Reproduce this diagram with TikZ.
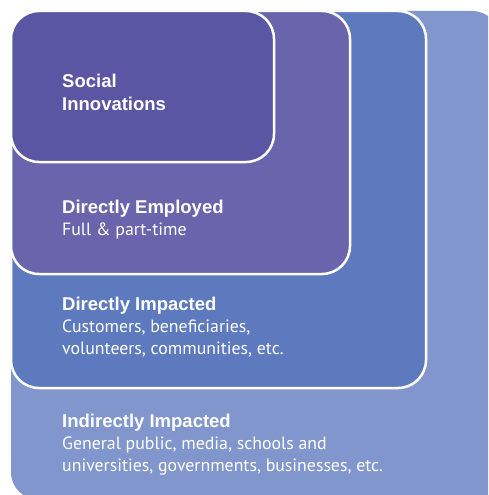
\documentclass[tikz,border=0pt]{standalone}
\usepackage{fontspec}
\setmainfont{Liberation Sans}
\newfontfamily\subfont{PT Sans}
\usetikzlibrary{positioning}
\definecolor{innovcol}{HTML}{5B56A4}
\definecolor{employcol}{HTML}{6A64AD}
\definecolor{directcol}{HTML}{5E7ABE}
\definecolor{indirectcol}{HTML}{8196CD}
\begin{document}
\begin{tikzpicture}[x=1pt, y=-1pt,
    layer/.style = {draw=white, line width=2.5pt, rounded corners=28pt},
    title/.style = {inner sep=0pt, text=white, align=left, font=\fontsize{18.5}{23}\selectfont\bfseries},
    desc/.style = {anchor=north west, inner sep=0pt, text=white, align=left, font=\subfont\fontsize{17.8}{22}\selectfont}]
    \useasboundingbox (0,0) rectangle (488,495);
    \clip (0,0) rectangle (488,495);

    \fill[rounded corners=28pt, indirectcol] (11,11) rectangle (500,500); % outer layer, cut by the page
    \draw[layer, fill=directcol] (11,11) rectangle (426,388);
    \draw[layer, fill=employcol] (11,11) rectangle (350,274);
    \draw[layer, fill=innovcol] (11,11) rectangle (274,162);

    \node[title, anchor=north west] (innov) at (62,73.5) {Social\\Innovations};
    \node[title, anchor=base west] (employ) at (62,213) {Directly Employed};
    \node[desc] (employtxt) at (62,222.2) {Full \& part-time};
    \node[title, anchor=base west] (direct) at (62,310) {Directly Impacted};
    \node[desc] (directtxt) at (62,319.2) {Customers, beneficiaries,\\volunteers, communities, etc.};
    \node[title, anchor=base west] (indirect) at (62,427) {Indirectly Impacted};
    \node[desc] (indirecttxt) at (62,436.2) {General public, media, schools and\\universities, governments, businesses, etc.};
\end{tikzpicture}
\end{document}
